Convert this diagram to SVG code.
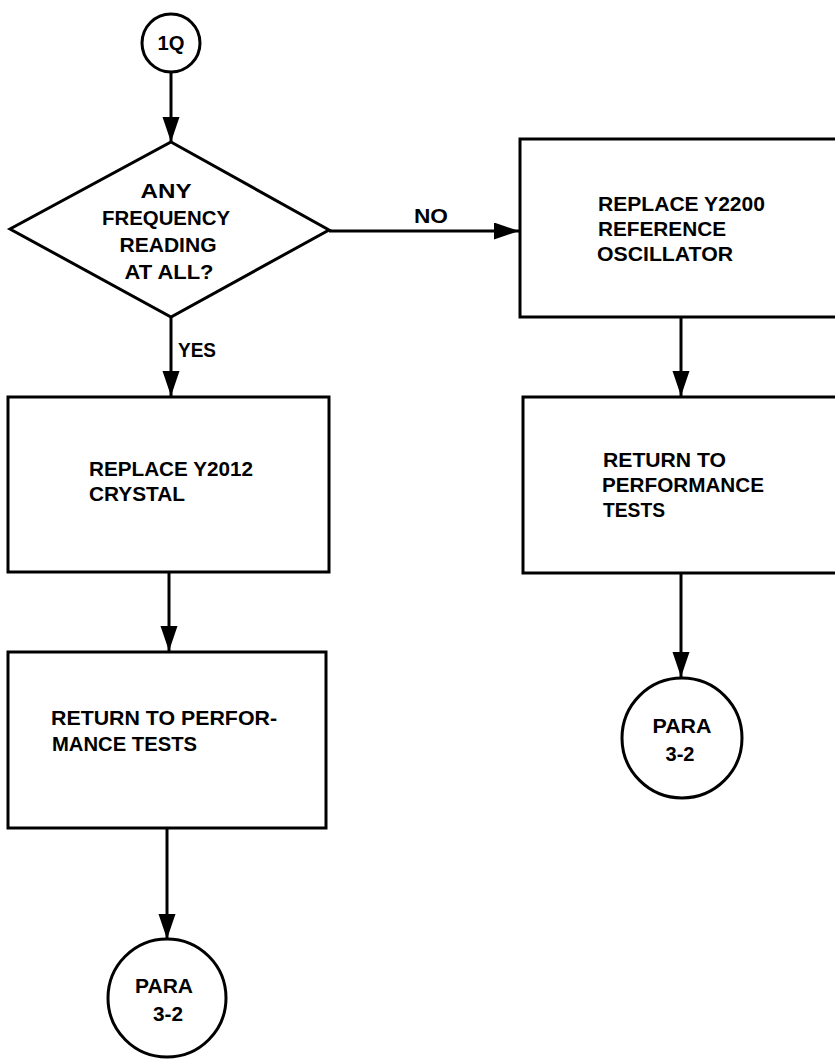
<svg xmlns="http://www.w3.org/2000/svg" width="835" height="1059" viewBox="0 0 835 1059">
<defs>
<style>
.shape{fill:#fff;stroke:#000;stroke-width:3}
.edge{fill:none;stroke:#000;stroke-width:3}
.t{font-family:"Liberation Sans",Arial,sans-serif;font-weight:bold;font-size:20px;fill:#000}
.c{text-anchor:middle}
</style>
<marker id="ah" markerWidth="26" markerHeight="18" refX="25" refY="8.5" orient="auto" markerUnits="userSpaceOnUse">
<path d="M0,0 L25,8.5 L0,17 Z" fill="#000"/>
</marker>
</defs>
<rect width="835" height="1059" fill="#fff"/>
<g id="connectors">
<line class="edge" x1="171" y1="72" x2="171" y2="142" marker-end="url(#ah)"/>
<line class="edge" x1="329" y1="231" x2="519" y2="231" marker-end="url(#ah)"/>
<line class="edge" x1="171" y1="317" x2="171" y2="396" marker-end="url(#ah)"/>
<line class="edge" x1="169" y1="572" x2="169" y2="651" marker-end="url(#ah)"/>
<line class="edge" x1="167" y1="828" x2="167" y2="939" marker-end="url(#ah)"/>
<line class="edge" x1="681" y1="317" x2="681" y2="396" marker-end="url(#ah)"/>
<line class="edge" x1="681" y1="573" x2="681" y2="677" marker-end="url(#ah)"/>
<text class="t" x="414" y="223" textLength="34" lengthAdjust="spacingAndGlyphs">NO</text>
<text class="t" x="178" y="357" textLength="38" lengthAdjust="spacingAndGlyphs">YES</text>
</g>
<g id="start">
<circle class="shape" cx="171" cy="43" r="29"/>
<text class="t c" x="171" y="50" textLength="27" lengthAdjust="spacingAndGlyphs">1Q</text>
</g>
<g id="decision">
<polygon class="shape" points="171,142 329,230 171,317 10,229"/>
<text class="t c" x="166" y="198" textLength="51" lengthAdjust="spacingAndGlyphs">ANY</text>
<text class="t c" x="166" y="225" textLength="128" lengthAdjust="spacingAndGlyphs">FREQUENCY</text>
<text class="t c" x="168" y="252" textLength="97" lengthAdjust="spacingAndGlyphs">READING</text>
<text class="t c" x="169" y="279" textLength="89" lengthAdjust="spacingAndGlyphs">AT ALL?</text>
</g>
<g id="replace-y2200">
<rect class="shape" x="520" y="139" width="330" height="178"/>
<text class="t" x="598" y="211" textLength="167" lengthAdjust="spacingAndGlyphs">REPLACE Y2200</text>
<text class="t" x="598" y="236" textLength="128" lengthAdjust="spacingAndGlyphs">REFERENCE</text>
<text class="t" x="597" y="261" textLength="136" lengthAdjust="spacingAndGlyphs">OSCILLATOR</text>
</g>
<g id="return-right">
<rect class="shape" x="523" y="397" width="330" height="176"/>
<text class="t" x="603" y="467" textLength="123" lengthAdjust="spacingAndGlyphs">RETURN TO</text>
<text class="t" x="602" y="492" textLength="162" lengthAdjust="spacingAndGlyphs">PERFORMANCE</text>
<text class="t" x="603" y="517" textLength="62" lengthAdjust="spacingAndGlyphs">TESTS</text>
</g>
<g id="para-right">
<circle class="shape" cx="682" cy="738" r="60"/>
<text class="t c" x="682" y="733" textLength="59" lengthAdjust="spacingAndGlyphs">PARA</text>
<text class="t c" x="680" y="761" textLength="29" lengthAdjust="spacingAndGlyphs">3-2</text>
</g>
<g id="replace-y2012">
<rect class="shape" x="8" y="397" width="321" height="175"/>
<text class="t" x="89" y="476" textLength="164" lengthAdjust="spacingAndGlyphs">REPLACE Y2012</text>
<text class="t" x="89" y="501" textLength="96" lengthAdjust="spacingAndGlyphs">CRYSTAL</text>
</g>
<g id="return-left">
<rect class="shape" x="8" y="652" width="318" height="176"/>
<text class="t" x="51" y="725" textLength="226" lengthAdjust="spacingAndGlyphs">RETURN TO PERFOR-</text>
<text class="t" x="52" y="751" textLength="145" lengthAdjust="spacingAndGlyphs">MANCE TESTS</text>
</g>
<g id="para-left">
<circle class="shape" cx="167" cy="998" r="59"/>
<text class="t c" x="164" y="993" textLength="58" lengthAdjust="spacingAndGlyphs">PARA</text>
<text class="t c" x="168" y="1021" textLength="30" lengthAdjust="spacingAndGlyphs">3-2</text>
</g>
</svg>
